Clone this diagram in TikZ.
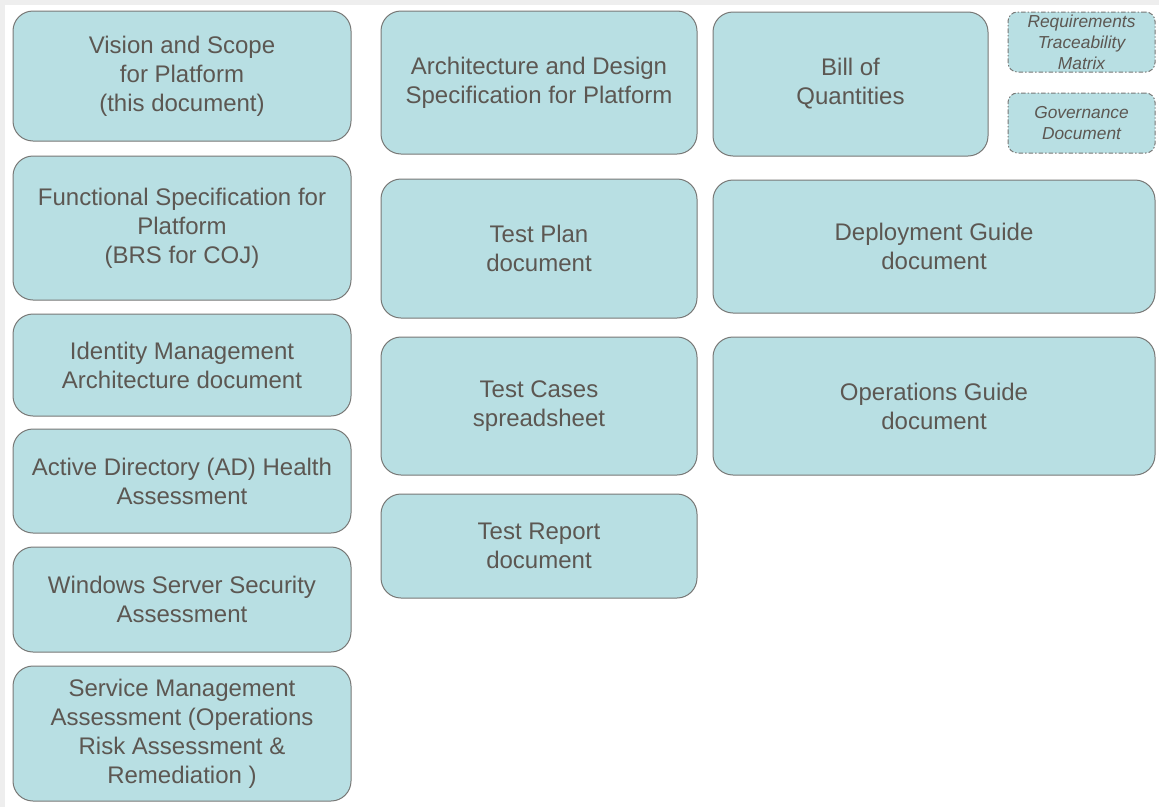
\documentclass[tikz,border=0pt]{standalone}
\usepackage{fontspec}
\setmainfont{Liberation Sans}
\definecolor{boxfill}{RGB}{184,223,227}
\definecolor{boxline}{RGB}{120,120,118}
\definecolor{boxtext}{RGB}{92,87,82}
\definecolor{edgegray}{RGB}{238,238,238}
\tikzset{
  docbox/.style={draw=boxline, fill=boxfill, line width=0.75pt, rounded corners=15pt,
    text=boxtext, align=center, inner sep=0pt,
    font=\fontsize{18}{21.75}\selectfont},
  notebox/.style={docbox, dash pattern={on 3.5pt off 1.5pt on 1pt off 1.5pt}, rounded corners=7pt,
    font=\fontsize{13}{15.75}\selectfont\itshape}
}
\begin{document}
\begin{tikzpicture}[x=0.75pt,y=0.75pt,yscale=-1,xscale=1]
\useasboundingbox (0,0) rectangle (1159,807);
\fill[white] (0,0) rectangle (1159,807);
\fill[edgegray] (0,0) rectangle (1159,5);
\fill[edgegray] (0,0) rectangle (5,807);

% left column
\node[docbox, minimum width=253.5pt, minimum height=97.5pt] (vision) at (182,76) {Vision and Scope\\for Platform\\(this document)};
\node[docbox, minimum width=253.5pt, minimum height=108pt] (funcspec) at (182,228) {Functional Specification for\\Platform\\(BRS for COJ)};
\node[docbox, minimum width=253.5pt, minimum height=76.5pt] (identity) at (182,365) {Identity Management\\Architecture document};
\node[docbox, minimum width=253.5pt, minimum height=78pt] (adhealth) at (182,481) {Active Directory (AD) Health\\Assessment};
\node[docbox, minimum width=253.5pt, minimum height=78.75pt] (winsec) at (182,599.5) {Windows Server Security\\Assessment};
\node[docbox, minimum width=253.5pt, minimum height=101.25pt] (servmgmt) at (182,733.5) {Service Management\\Assessment (Operations\\Risk Assessment \&\\Remediation )};

% middle column
\node[docbox, minimum width=237pt, minimum height=107.25pt] (archspec) at (539,82.5) {Architecture and Design\\Specification for Platform};
\node[docbox, minimum width=237pt, minimum height=104.25pt] (testplan) at (539,248.5) {Test Plan\\document};
\node[docbox, minimum width=237pt, minimum height=103.5pt] (testcases) at (539,406) {Test Cases\\spreadsheet};
\node[docbox, minimum width=237pt, minimum height=78pt] (testreport) at (539,546) {Test Report\\document};

% right column
\node[docbox, minimum width=206.25pt, minimum height=108pt] (bill) at (850.5,84) {Bill of\\Quantities};
\node[docbox, minimum width=331.5pt, minimum height=99.75pt] (deploy) at (934,246.5) {Deployment Guide\\document};
\node[docbox, minimum width=331.5pt, minimum height=103.5pt] (opsguide) at (934,406) {Operations Guide\\document};

% dashed notes
\node[notebox, minimum width=110.25pt, minimum height=45pt] (rtm) at (1081.5,42) {Requirements\\Traceability\\Matrix};
\node[notebox, minimum width=110.25pt, minimum height=45pt] (govdoc) at (1081.5,123) {Governance\\Document};

\end{tikzpicture}
\end{document}
